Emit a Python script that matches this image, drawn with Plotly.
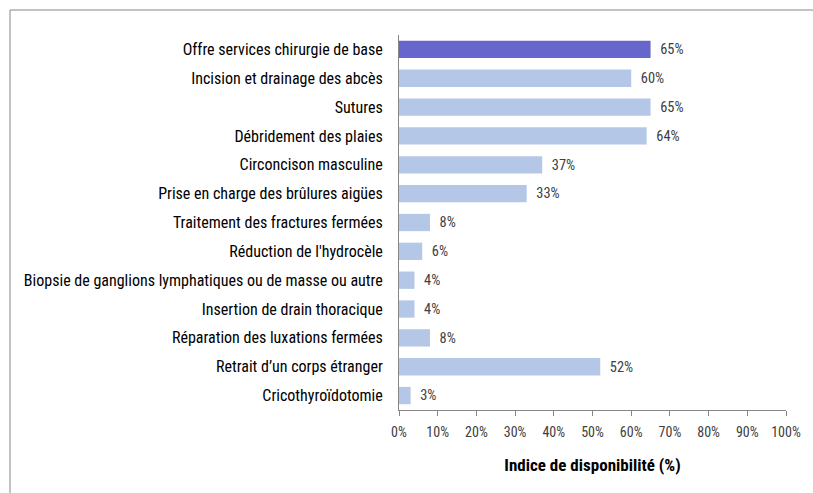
import plotly.graph_objects as go

categories = [
    "Offre services chirurgie de base",
    "Incision et drainage des abcès",
    "Sutures",
    "Débridement des plaies",
    "Circoncison masculine",
    "Prise en charge des brûlures aigües",
    "Traitement des fractures fermées",
    "Réduction de l'hydrocèle",
    "Biopsie de ganglions lymphatiques ou de masse ou autre",
    "Insertion de drain thoracique",
    "Réparation des luxations fermées",
    "Retrait d\u2019un corps étranger",
    "Cricothyroïdotomie",
]
values = [65, 60, 65, 64, 37, 33, 8, 6, 4, 4, 8, 52, 3]
tick_vals = [0, 10, 20, 30, 40, 50, 60, 70, 80, 90, 100]
tick_text = [f"{v}%" for v in tick_vals]

colors = ["#6666CC"] + ["#B4C7E7"] * (len(values) - 1)
FONT = "Liberation Sans Narrow, Arial Narrow, Roboto Condensed, Liberation Sans, sans-serif"

W, H = 813, 493
L, R, T, B = 399, 24, 35, 83
pw, ph = W - L - R, H - T - B


def px_x(p):
    return (p - L) / pw


def px_y(p):
    return (H - B - p) / ph


fig = go.Figure(
    go.Bar(
        y=categories,
        x=values,
        orientation="h",
        marker=dict(color=colors, line=dict(width=0)),
        text=[f"\u00a0\u00a0{v}%" for v in values],
        textposition="outside",
        textfont=dict(family=FONT, size=15, color="#404040"),
        cliponaxis=False,
        width=0.6,
    )
)

fig.update_layout(
    width=W,
    height=H,
    margin=dict(l=L, r=R, t=T, b=B),
    paper_bgcolor="white",
    plot_bgcolor="white",
    showlegend=False,
    font=dict(family=FONT, size=16, color="#000000"),
    xaxis=dict(
        range=[0, 100],
        tickvals=tick_vals,
        ticktext=tick_text,
        tickfont=dict(family=FONT, size=14, color="#404040"),
        showgrid=False,
        zeroline=False,
        showline=True,
        linecolor="#868686",
        linewidth=1,
        ticks="outside",
        ticklen=5,
        tickcolor="#868686",
        ticklabelstandoff=4,
        title=dict(
            text="<b>Indice de disponibilité (%)</b>",
            font=dict(family=FONT, size=17, color="#000000"),
            standoff=20,
        ),
    ),
    yaxis=dict(
        autorange="reversed",
        categoryorder="array",
        categoryarray=categories,
        showgrid=False,
        zeroline=False,
        showline=True,
        linecolor="#868686",
        linewidth=1,
        ticks="",
        ticklabelstandoff=12,
        tickfont=dict(family=FONT, size=16, color="#000000"),
    ),
    shapes=[
        # frame: top edge and left edge of the surrounding box
        dict(type="line", xref="paper", yref="paper",
             x0=px_x(7), x1=px_x(W + 20), y0=px_y(10), y1=px_y(10),
             line=dict(color="#868686", width=1)),
        dict(type="line", xref="paper", yref="paper",
             x0=px_x(7), x1=px_x(7), y0=px_y(10), y1=px_y(H + 20),
             line=dict(color="#868686", width=1)),
    ],
)

fig.write_html("out.html", config={"displayModeBar": False})
